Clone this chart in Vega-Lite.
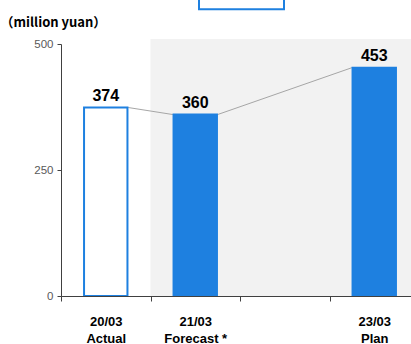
{
  "$schema": "https://vega.github.io/schema/vega-lite/v6.json",
  "autosize": "none",
  "width": 350,
  "height": 252,
  "padding": {"left": 61, "top": 44, "right": 0, "bottom": 48},
  "background": "white",
  "config": {"view": {"stroke": null}, "font": "Liberation Sans"},
  "datasets": {
    "bars": [
      {"period": "20/03", "kind": "actual", "value": 374},
      {"period": "21/03", "kind": "forecast", "value": 360},
      {"period": "23/03", "kind": "plan", "value": 453}
    ],
    "links": [
      {"from": "20/03", "to": "21/03", "v1": 374, "v2": 360},
      {"from": "21/03", "to": "23/03", "v1": 360, "v2": 453}
    ],
    "shade": [
      {"start": "21/03", "end": "23/03", "low": 0, "high": 510}
    ]
  },
  "layer": [
    {
      "data": {"name": "shade"},
      "mark": {"type": "rect", "color": "#F2F2F2"},
      "encoding": {
        "x": {
          "field": "start",
          "type": "nominal",
          "bandPosition": 0,
          "scale": {"domain": ["20/03", "21/03", "22/03", "23/03"], "range": [0, 358], "paddingInner": 0, "paddingOuter": 0},
          "axis": {
            "title": null,
            "labelAngle": 0,
            "tickBand": "extent",
            "domainColor": "#404040",
            "tickColor": "#404040",
            "tickSize": 5,
            "labelFont": "Liberation Sans",
            "labelFontSize": 13,
            "labelFontWeight": "bold",
            "labelColor": "#000000",
            "labelLineHeight": 17,
            "labelPadding": 14,
            "labelBaseline": "top",
            "labelExpr": "datum.value == '20/03' ? ['20/03', 'Actual'] : datum.value == '21/03' ? ['21/03', 'Forecast *'] : datum.value == '23/03' ? ['23/03', 'Plan'] : ''"
          }
        },
        "x2": {"field": "end", "bandPosition": 1},
        "y": {
          "field": "low",
          "type": "quantitative",
          "scale": {"domain": [0, 500], "nice": false, "zero": true},
          "axis": {
            "values": [0, 250, 500],
            "grid": false,
            "domainColor": "#404040",
            "tickColor": "#404040",
            "tickSize": 4,
            "labelFontSize": 11.5,
            "labelColor": "#595959",
            "labelPadding": 4,
            "title": "（million yuan）",
            "titleFont": "Noto Sans CJK JP",
            "titleAngle": 0,
            "titleAlign": "left",
            "titleBaseline": "middle",
            "titleX": -61,
            "titleY": -22,
            "titleFontSize": 13,
            "titleFontWeight": "bold",
            "titleColor": "#000000"
          }
        },
        "y2": {"field": "high"}
      }
    },
    {
      "data": {"name": "links"},
      "mark": {"type": "rule", "color": "#A6A6A6", "strokeWidth": 1},
      "encoding": {
        "x": {"field": "from", "type": "nominal", "bandPosition": 0.75},
        "x2": {"field": "to", "bandPosition": 0.25},
        "y": {"field": "v1", "type": "quantitative"},
        "y2": {"field": "v2"}
      }
    },
    {
      "data": {"name": "bars"},
      "mark": {"type": "bar", "width": {"band": 0.485}, "stroke": "#1E80E0", "strokeWidth": 2},
      "encoding": {
        "x": {"field": "period", "type": "nominal"},
        "y": {"field": "value", "type": "quantitative"},
        "fill": {
          "field": "kind",
          "type": "nominal",
          "scale": {"domain": ["actual", "forecast", "plan"], "range": ["#FFFFFF", "#1E80E0", "#1E80E0"]},
          "legend": {
            "values": ["actual"],
            "title": null,
            "orient": "none",
            "legendX": 137,
            "legendY": -89,
            "padding": 0,
            "symbolType": "M-1,-0.25H1V0.25H-1Z",
            "symbolSize": 7225,
            "symbolStrokeColor": "#1E80E0",
            "symbolStrokeWidth": 2,
            "labelExpr": "''",
            "labelFontSize": 1
          }
        }
      }
    },
    {
      "data": {"name": "bars"},
      "mark": {"type": "text", "baseline": "alphabetic", "dy": -7, "fontSize": 16, "fontWeight": "bold", "color": "#000000"},
      "encoding": {
        "x": {"field": "period", "type": "nominal"},
        "y": {"field": "value", "type": "quantitative"},
        "text": {"field": "value", "type": "quantitative"}
      }
    }
  ],
  "resolve": {"scale": {"x": "shared", "y": "shared"}}
}
